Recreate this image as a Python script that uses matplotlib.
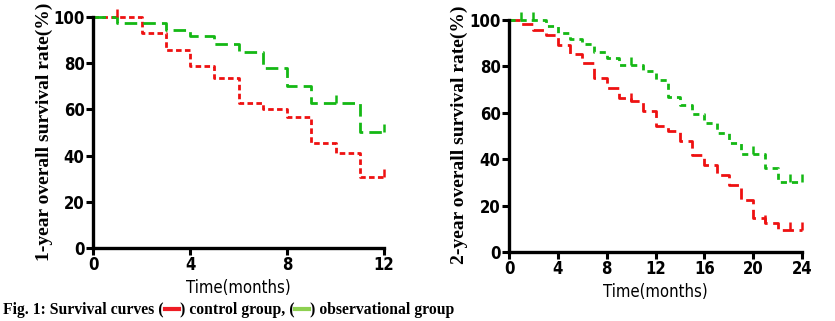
import matplotlib
matplotlib.use("Agg")
import matplotlib.pyplot as plt
from matplotlib.lines import Line2D
from matplotlib import font_manager

# Kaplan-Meier estimates (%), one value per month, held until the next month
months_1y = list(range(0, 13))
control_1y = [100, 100, 93.1, 85.9, 78.6, 73.6, 62.8, 60.2, 56.6, 45.5, 41.1, 30.7, 30.7]
observ_1y = [100, 97.4, 97.4, 94.5, 91.6, 88.5, 84.8, 77.9, 70.3, 62.8, 62.8, 50.1, 50.1]
cens_control_1y = [1, 12]
cens_observ_1y = [10, 12]

months_2y = list(range(0, 25))
control_2y = [100, 98.1, 95.9, 93.7, 89.4, 85.4, 81.5, 75.1, 70.8, 66.5, 65.0, 60.7,
              54.5, 52.2, 47.7, 41.9, 37.5, 33.2, 28.9, 22.4, 14.6, 12.3, 9.4, 9.4, 9.4]
observ_2y = [100, 100, 100, 97.2, 94.3, 91.8, 89.7, 86.4, 83.5, 80.7, 80.7, 77.8,
             74.2, 67.0, 63.5, 59.4, 55.6, 51.2, 46.8, 42.4, 42.4, 36.1, 30.1, 30.1, 30.1]
cens_control_2y = [10, 21, 23, 24]
cens_observ_2y = [1, 2, 10, 20, 23, 24]

xticks_1y = [0, 4, 8, 12]
xticks_2y = [0, 4, 8, 12, 16, 20, 24]
yticks = [0, 20, 40, 60, 80, 100]

RED = "#ee1111"
GREEN = "#14b814"

# Use a condensed sans face for numerals and axis titles when one is installed
has_condensed = any("Condensed" in f.fname and "DejaVuSans" in f.fname
                    for f in font_manager.fontManager.ttflist)
if has_condensed:
    tick_font = dict(family="DejaVu Sans", stretch="condensed", weight="bold", size=12)
    xlab_font = dict(family="DejaVu Sans", stretch="condensed", size=12)
else:
    tick_font = dict(family="Liberation Sans", weight="bold", size=12.5)
    xlab_font = dict(family="Liberation Sans", size=12.5)
ylab_font = dict(family="Liberation Serif", weight="bold", size=14)

fig = plt.figure(figsize=(8.35, 3.21), dpi=100)
fig.patch.set_facecolor("white")


def survival_panel(rect, months, ctrl, obs, cens_c, cens_o, xticks, ylabel,
                   ctrl_dash, obs_dash, ylab_x):
    ax = fig.add_axes(rect)
    ax.step(months, ctrl, where="post", color=RED, lw=2.0, dashes=ctrl_dash,
            clip_on=False, zorder=3)
    ax.step(months, obs, where="post", color=GREEN, lw=2.0, dashes=obs_dash,
            clip_on=False, zorder=3)
    ax.plot(cens_c, [ctrl[m] for m in cens_c], ls="none", marker=2, ms=6,
            mew=1.8, color=RED, clip_on=False, zorder=4)
    ax.plot(cens_o, [obs[m] for m in cens_o], ls="none", marker=2, ms=6,
            mew=1.8, color=GREEN, clip_on=False, zorder=4)
    ax.set_xlim(months[0], months[-1])
    ax.set_ylim(0, 100)
    ax.set_xticks(xticks)
    ax.set_yticks(yticks)
    ax.set_xticklabels([str(t) for t in xticks], fontdict=tick_font)
    ax.set_yticklabels([str(t) for t in yticks], fontdict=tick_font)
    for s in ("top", "right"):
        ax.spines[s].set_visible(False)
    for s in ("left", "bottom"):
        ax.spines[s].set_linewidth(2.4)
        ax.spines[s].set_zorder(5)
    ax.tick_params(axis="both", direction="out", length=5, width=2.2,
                   pad=1, colors="black")
    ax.set_xlabel("Time(months)", fontdict=xlab_font)
    ax.xaxis.set_label_coords(0.5, -0.135)
    ax.set_ylabel(ylabel, fontdict=ylab_font)
    ax.yaxis.set_label_coords(ylab_x, 0.505)
    return ax


survival_panel([0.1114, 0.2274, 0.3485, 0.7196], months_1y, control_1y, observ_1y,
               cens_control_1y, cens_observ_1y, xticks_1y,
               "1-year overall survival rate(%)", (2.0, 1.2), (4.5, 2.2), -0.137)
survival_panel([0.6096, 0.2150, 0.3509, 0.7227], months_2y, control_2y, observ_2y,
               cens_control_2y, cens_observ_2y, xticks_2y,
               "2-year overall survival rate(%)", (4.0, 2.0), (2.2, 1.8), -0.140)

# Caption with short coloured keys between the brackets
cap_font = dict(family="Liberation Serif", weight="bold", size=11.3)
pieces = ["Fig. 1: Survival curves (", ("#ee1c24",), ") control group, (",
          ("#8dd050",), ") observational group"]
fig.canvas.draw()
renderer = fig.canvas.get_renderer()
x_px = 3.0
y_px = 321 - 310
W, H = 835.0, 321.0
for p in pieces:
    if isinstance(p, str):
        t = fig.text(x_px / W, y_px / H, p, ha="left", va="center", **cap_font)
        bb = t.get_window_extent(renderer)
        x_px += bb.width
    else:
        seg = 16
        fig.add_artist(Line2D([(x_px + 1) / W, (x_px + seg - 1) / W],
                              [(y_px + 1) / H, (y_px + 1) / H],
                              color=p[0], lw=3, transform=fig.transFigure))
        x_px += seg

fig.savefig("out.png", dpi=100, facecolor="white")
